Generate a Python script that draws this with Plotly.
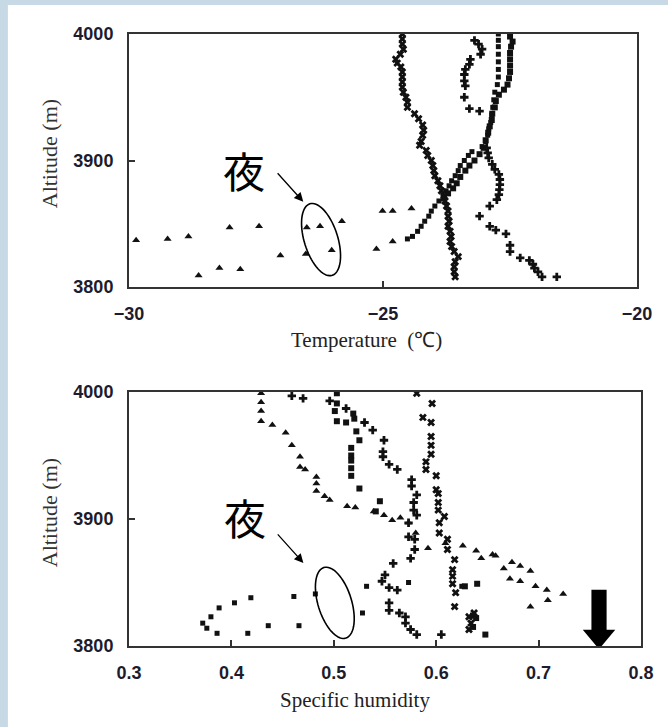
import math
import plotly.graph_objects as go
from plotly.subplots import make_subplots

# ---------------- Top panel: temperature profiles ----------------
t_profA_temp = [-24.62, -24.62, -24.62, -24.60, -24.66, -24.75, -24.72, -24.65, -24.62, -24.62, -24.62, -24.62,
                -24.60, -24.55, -24.52, -24.52, -24.38, -24.30, -24.22, -24.20, -24.22, -24.25, -24.28, -24.15,
                -24.12, -24.05, -24.02, -24.00, -23.98, -23.92, -23.88, -23.85, -23.80, -23.78, -23.75, -23.72,
                -23.72, -23.70, -23.72, -23.68, -23.66, -23.68, -23.65, -23.60, -23.52, -23.58, -23.60, -23.60, -23.58]
t_profA_alt = [4000, 3996, 3992, 3988, 3984, 3980, 3977, 3974, 3970, 3966, 3962, 3958,
               3954, 3950, 3946, 3942, 3937, 3933, 3928, 3924, 3920, 3915, 3912, 3908,
               3904, 3900, 3896, 3892, 3888, 3884, 3880, 3876, 3872, 3868, 3864, 3860,
               3856, 3852, 3848, 3844, 3840, 3836, 3832, 3828, 3824, 3820, 3816, 3812, 3808]

t_profB_temp = [-22.73, -22.73, -22.73, -22.73, -22.73, -22.73, -22.73, -22.75, -22.80, -22.82, -22.84, -22.86,
                -22.88, -22.92, -22.94, -22.98, -23.05, -23.25, -23.32, -23.40, -23.48, -23.52, -23.58, -23.65,
                -23.70, -23.76, -23.82, -23.90, -23.98, -24.05, -24.10, -24.18, -24.25, -24.32, -24.42, -24.52]
t_profB_alt = [4000, 3995, 3990, 3984, 3978, 3972, 3966, 3960, 3954, 3948, 3942, 3936,
               3930, 3925, 3920, 3915, 3911, 3907, 3904, 3900, 3896, 3892, 3888, 3884,
               3880, 3876, 3872, 3868, 3864, 3860, 3856, 3852, 3848, 3844, 3840, 3838]

t_profC_temp = [-22.50, -22.45, -22.48, -22.50, -22.50, -22.50, -22.50, -22.52, -22.55, -22.62, -22.72, -22.78,
                -22.80, -22.85, -22.86, -22.90, -22.93, -22.98, -23.02, -23.10, -23.20, -23.30, -23.38, -23.48,
                -23.55, -23.62, -23.72, -23.80]
t_profC_alt = [3998, 3994, 3990, 3985, 3980, 3975, 3970, 3965, 3960, 3956, 3952, 3947,
               3942, 3937, 3932, 3927, 3922, 3916, 3910, 3905, 3900, 3896, 3892, 3887,
               3882, 3878, 3874, 3870]

t_profD_temp = [-23.20, -23.12, -23.05, -23.08, -23.28, -23.30, -23.38, -23.40, -23.40, -23.38, -23.40, -23.30,
                -23.10, -22.96, -22.94, -22.92, -22.85, -22.80, -22.72, -22.70, -22.70, -22.71, -22.72, -22.76,
                -22.90, -23.10, -22.90, -22.78, -22.58, -22.50, -22.50, -22.30, -22.12, -22.05, -22.02, -21.95,
                -21.87, -21.58]
t_profD_alt = [3995, 3992, 3988, 3984, 3980, 3976, 3972, 3968, 3963, 3959, 3950, 3941,
               3939, 3910, 3906, 3902, 3897, 3893, 3889, 3885, 3881, 3877, 3873, 3869,
               3864, 3856, 3848, 3845, 3842, 3833, 3828, 3823, 3821, 3818, 3815, 3812,
               3808, 3808]

t_night_temp = [-29.86, -29.24, -28.83, -28.02, -27.44, -27.02, -26.52, -26.50, -26.24, -26.01, -25.81,
                -28.63, -28.22, -27.81, -25.01, -24.81, -24.44, -25.13, -24.81]
t_night_alt = [3837, 3838, 3840, 3847, 3848, 3825, 3826, 3847, 3848, 3829, 3852,
               3809, 3815, 3814, 3860, 3860, 3862, 3830, 3836]

# ---------------- Bottom panel: specific humidity profiles ----------------
q_tri_val = [0.429, 0.429, 0.429, 0.429, 0.440, 0.453, 0.459, 0.467, 0.467, 0.472, 0.483, 0.483, 0.483,
             0.491, 0.496, 0.513, 0.521, 0.539, 0.549, 0.557, 0.565, 0.573, 0.580, 0.592, 0.609,
             0.626, 0.639, 0.644, 0.655, 0.658, 0.666, 0.674, 0.682, 0.672, 0.682, 0.692, 0.697,
             0.708, 0.709, 0.724, 0.692]
q_tri_alt = [3999, 3992, 3985, 3977, 3974, 3968, 3958, 3949, 3941, 3939, 3933, 3928, 3922,
             3918, 3915, 3910, 3909, 3906, 3903, 3899, 3901, 3897, 3889, 3877, 3881,
             3879, 3875, 3869, 3872, 3871, 3861, 3866, 3863, 3853, 3851, 3859, 3847,
             3844, 3836, 3841, 3831]

q_sq_val = [0.503, 0.503, 0.501, 0.503, 0.512, 0.519, 0.520, 0.522, 0.525, 0.517, 0.517, 0.517, 0.517,
            0.517, 0.525, 0.545, 0.541, 0.640, 0.628, 0.636, 0.636, 0.639, 0.648]
q_sq_alt = [3999, 3991, 3985, 3977, 3976, 3983, 3979, 3969, 3962, 3956, 3950, 3946, 3940,
            3934, 3924, 3914, 3906, 3849, 3847, 3824, 3815, 3822, 3809]

q_bow_val = [0.581, 0.596, 0.587, 0.595, 0.595, 0.595, 0.595, 0.590, 0.590, 0.600, 0.600, 0.602, 0.602,
             0.602, 0.608, 0.603, 0.603, 0.611, 0.611, 0.618, 0.616, 0.616, 0.616, 0.619, 0.618,
             0.632, 0.632, 0.637, 0.634]
q_bow_alt = [3999, 3991, 3980, 3976, 3965, 3958, 3951, 3945, 3939, 3934, 3923, 3920, 3913,
             3907, 3902, 3897, 3889, 3884, 3876, 3868, 3860, 3855, 3849, 3842, 3831,
             3823, 3813, 3826, 3818]

q_cross_val = [0.459, 0.470, 0.496, 0.512, 0.530, 0.538, 0.549, 0.548, 0.548, 0.554, 0.562, 0.576, 0.576,
               0.581, 0.578, 0.578, 0.581, 0.573, 0.573, 0.579, 0.579, 0.575, 0.558, 0.550, 0.547,
               0.554, 0.562, 0.554, 0.554, 0.564, 0.570, 0.570, 0.575, 0.581, 0.605]
q_cross_alt = [3997, 3995, 3993, 3987, 3976, 3970, 3962, 3953, 3949, 3943, 3939, 3931, 3926,
               3919, 3913, 3907, 3903, 3897, 3886, 3884, 3876, 3869, 3865, 3856, 3851,
               3846, 3844, 3834, 3828, 3826, 3823, 3818, 3813, 3809, 3809]

q_night_val = [0.372, 0.376, 0.380, 0.386, 0.388, 0.403, 0.419, 0.416, 0.436, 0.461, 0.466, 0.482,
               0.532, 0.528, 0.573, 0.625]
q_night_alt = [3818, 3814, 3823, 3810, 3830, 3834, 3838, 3810, 3816, 3839, 3816, 3841,
               3847, 3826, 3850, 3847]

t_ticks = [-30, -25, -20]
q_ticks = [0.3, 0.4, 0.5, 0.6, 0.7, 0.8]
alt_ticks = [3800, 3900, 4000]

# ---------------- Layout geometry ----------------
W, H = 668, 727
ML, MR, MT, MB = 129, 19, 34, 81
PW, PH = W - ML - MR, H - MT - MB
BG = "#c6d9e4"

fig = make_subplots(rows=2, cols=1)
INK = "#111111"

def add(x, y, symbol, size, row):
    fig.add_trace(go.Scatter(x=x, y=y, mode="markers",
                             marker=dict(symbol=symbol, size=size, color=INK, line=dict(width=0)),
                             showlegend=False, hoverinfo="skip"), row=row, col=1)

add(t_profA_temp, t_profA_alt, "x", 7, 1)
add(t_profB_temp, t_profB_alt, "square", 5, 1)
add(t_profC_temp, t_profC_alt, "square", 6, 1)
add(t_profD_temp, t_profD_alt, "cross", 7, 1)
add(t_night_temp, t_night_alt, "triangle-up", 7, 1)

add(q_tri_val, q_tri_alt, "triangle-up", 7, 2)
add(q_sq_val, q_sq_alt, "square", 6, 2)
add(q_bow_val, q_bow_alt, "x", 7, 2)
add(q_cross_val, q_cross_alt, "cross", 7, 2)
add(q_night_val, q_night_alt, "square", 5, 2)

axis_line = dict(showline=True, linecolor="#333333", linewidth=2, mirror=True,
                 ticks="inside", ticklen=6, tickcolor="#333333", tickwidth=1.5,
                 showgrid=False, zeroline=False,
                 tickfont=dict(family="Liberation Sans Narrow, Liberation Sans, Arial", size=18,
                               color="#1c1c2c", weight="bold"))

top_xdom = [0, 516 / PW]
top_ydom = [(H - MB - 287) / PH, 1]
bot_ydom = [0, (H - MB - 392) / PH]

fig.update_layout(
    xaxis=dict(domain=top_xdom, range=[-30, -20], tickvals=t_ticks, ticklabelstandoff=9, **axis_line),
    yaxis=dict(domain=top_ydom, range=[3800, 4000], tickvals=alt_ticks, ticklabelstandoff=10, **axis_line),
    xaxis2=dict(domain=[0, 1], range=[0.3, 0.8], tickvals=q_ticks, tickformat=".1f", ticklabelstandoff=9, **axis_line),
    yaxis2=dict(domain=bot_ydom, range=[3800, 4000], tickvals=alt_ticks, ticklabelstandoff=10, **axis_line),
)

def px_to_paper_x(px):
    return (px - ML) / PW

def px_to_paper_y(py):
    return (H - MB - py) / PH

shapes = []
# light-blue slide background with a white card on it
shapes.append(dict(type="rect", xref="paper", yref="paper", layer="below",
                   x0=px_to_paper_x(6), x1=px_to_paper_x(W + 10),
                   y0=px_to_paper_y(H + 10), y1=px_to_paper_y(5),
                   fillcolor="white", line=dict(width=0)))

def ellipse_path(cx, cy, a_px, b_px, tilt_deg, ppx, ppy):
    th = math.radians(tilt_deg)
    ux, uy = math.sin(th), math.cos(th)
    vx, vy = math.cos(th), -math.sin(th)
    pts = []
    n = 72
    for i in range(n):
        t = 2 * math.pi * i / n
        dx = a_px * math.cos(t) * ux + b_px * math.sin(t) * vx
        dy = a_px * math.cos(t) * uy + b_px * math.sin(t) * vy
        pts.append((cx + dx / ppx, cy - dy / ppy))
    return "M " + " L ".join(f"{x:.5f},{y:.3f}" for x, y in pts) + " Z"

ppx_top, ppy_top = 516 / 10, 253 / 200
ppx_bot, ppy_bot = PW / 0.5, 254 / 200

shapes.append(dict(type="path", xref="x", yref="y",
                   path=ellipse_path(-26.22, 3837.5, 37.5, 17, 17.7, ppx_top, ppy_top),
                   line=dict(color="black", width=1.6)))
shapes.append(dict(type="path", xref="x2", yref="y2",
                   path=ellipse_path(0.501, 3834, 37, 17, 17.7, ppx_bot, ppy_bot),
                   line=dict(color="black", width=1.6)))

# thick down arrow at bottom right
acx = 0.759
sh = 7.7 / ppx_bot
hh = 16.5 / ppx_bot
a_top = 3844.3
a_neck = 3812.8
a_tip = 3797.5
arrow_path = (f"M {acx-sh},{a_top} L {acx+sh},{a_top} L {acx+sh},{a_neck} L {acx+hh},{a_neck} "
              f"L {acx},{a_tip} L {acx-hh},{a_neck} L {acx-sh},{a_neck} Z")
shapes.append(dict(type="path", xref="x2", yref="y2", path=arrow_path,
                   fillcolor="black", line=dict(color="black", width=0)))

fig.update_layout(shapes=shapes)

ann = []
serif = "Liberation Serif, Times New Roman, serif"
def title(text, px, py, angle=0, size=19, color="#222222"):
    ann.append(dict(text=text, xref="paper", yref="paper", x=px_to_paper_x(px), y=px_to_paper_y(py),
                    xanchor="center", yanchor="middle", showarrow=False, textangle=angle,
                    font=dict(family=serif, size=size, color=color)))

title("Altitude (m)", 48, 154, angle=-90, size=22, color="#333333")
title("Altitude (m)", 48, 513, angle=-90, size=22, color="#333333")
title("Temperature  (℃)", 370, 340, size=21)
title("Specific humidity", 359, 700, size=21)

cjk = "Noto Sans CJK JP, Noto Sans CJK SC, sans-serif"
ann.append(dict(text="夜", xref="x", yref="y", x=-27.73, y=3892.5, showarrow=False,
                xanchor="center", yanchor="middle", font=dict(family=cjk, size=42, color="black")))
ann.append(dict(text="夜", xref="x2", yref="y2", x=0.4132, y=3902, showarrow=False,
                xanchor="center", yanchor="middle", font=dict(family=cjk, size=42, color="black")))
ann.append(dict(text="", xref="x", yref="y", x=-26.57, y=3867.4, ax=-27, ay=-30,
                showarrow=True, arrowhead=2, arrowsize=1.4, arrowwidth=1.3, arrowcolor="black"))
ann.append(dict(text="", xref="x2", yref="y2", x=0.4703, y=3865.4, ax=-27, ay=-30,
                showarrow=True, arrowhead=2, arrowsize=1.4, arrowwidth=1.3, arrowcolor="black"))

fig.update_layout(
    annotations=ann,
    width=W, height=H,
    margin=dict(l=ML, r=MR, t=MT, b=MB),
    paper_bgcolor=BG,
    plot_bgcolor="white",
    showlegend=False,
)

fig.write_html("out.html",
               config={"displayModeBar": False},
               post_script=f"document.body.style.margin='0';document.body.style.overflow='hidden';"
                           f"document.body.style.background='{BG}';")
